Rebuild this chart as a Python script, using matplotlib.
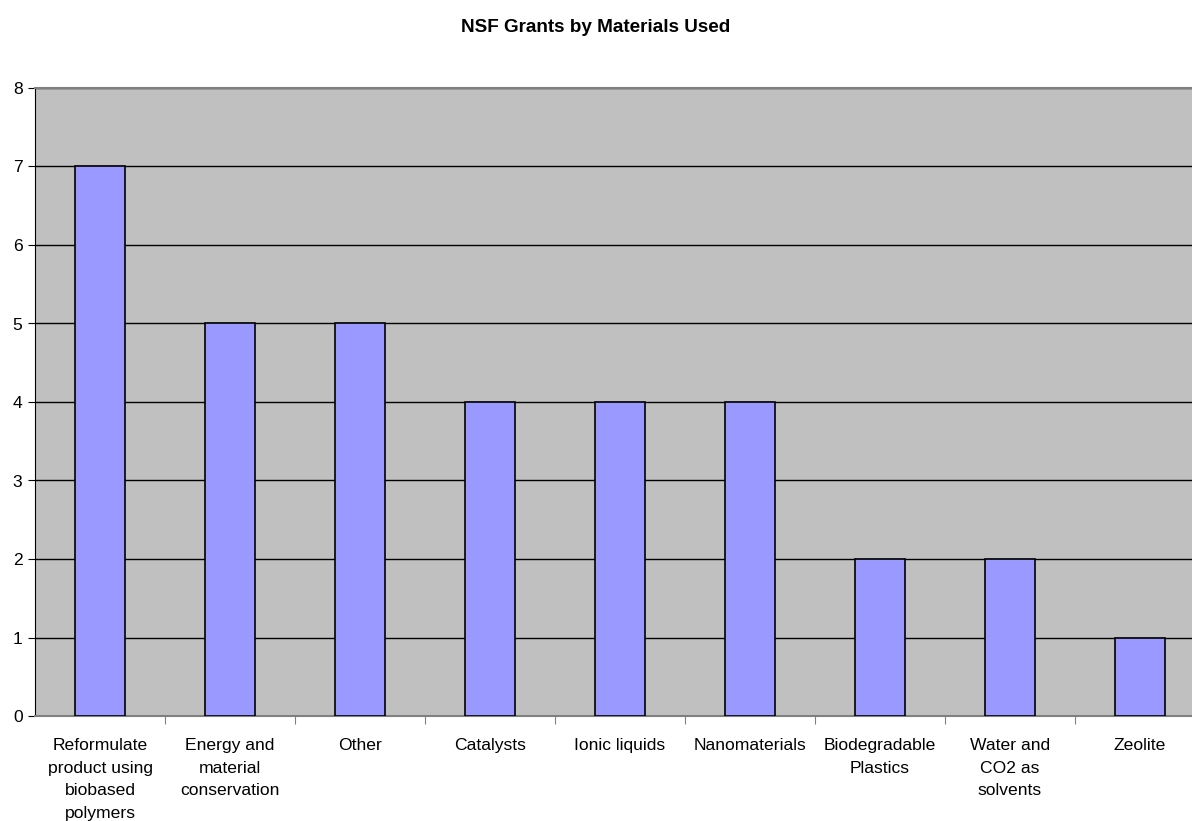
import matplotlib.pyplot as plt

plt.rcParams['font.family'] = ['Liberation Sans', 'DejaVu Sans']

categories = ['Reformulate\nproduct using\nbiobased\npolymers', 'Energy and\nmaterial\nconservation',
              'Other', 'Catalysts', 'Ionic liquids', 'Nanomaterials',
              'Biodegradable\nPlastics', 'Water and\nCO2 as\nsolvents', 'Zeolite']
grants = [7, 5, 5, 4, 4, 4, 2, 2, 1]

W, H = 1192, 821
fig = plt.figure(figsize=(W / 100, H / 100), dpi=100)
ax = fig.add_axes([35 / W, 1 - 716 / H, 1170 / W, 628 / H])
ax.set_facecolor('#C0C0C0')

x = list(range(len(categories)))
ax.bar(x, grants, width=0.39, color='#9999FF', edgecolor='black', linewidth=1.2, zorder=3)

ax.set_xlim(-0.5, len(categories) - 0.5)
ax.set_ylim(0, 8)
ax.set_yticks(range(0, 9))
ax.yaxis.grid(True, color='black', linewidth=1, zorder=1)
ax.set_axisbelow(True)

# category boundaries as major ticks, names as minor tick labels
ax.set_xticks([i + 0.5 for i in x[:-1]])
ax.set_xticklabels([])
ax.set_xticks(x, minor=True)
ax.set_xticklabels(categories, minor=True, fontsize=12.6, linespacing=1.63, va='top')
ax.tick_params(axis='x', which='minor', length=0, pad=16)
ax.tick_params(axis='x', which='major', length=6, color='#808080', direction='out')
ax.tick_params(axis='y', length=5, labelsize=12.6, pad=4)

ax.spines['right'].set_visible(False)
ax.spines['top'].set_color('#808080')
ax.spines['top'].set_linewidth(1.5)
ax.spines['left'].set_color('black')
ax.spines['bottom'].set_color('#808080')
ax.spines['bottom'].set_linewidth(1.5)

fig.text(596 / W, 1 - 28 / H, 'NSF Grants by Materials Used', ha='center', va='center',
         fontsize=13.6, fontweight='bold')

fig.savefig('out.png', dpi=100)
